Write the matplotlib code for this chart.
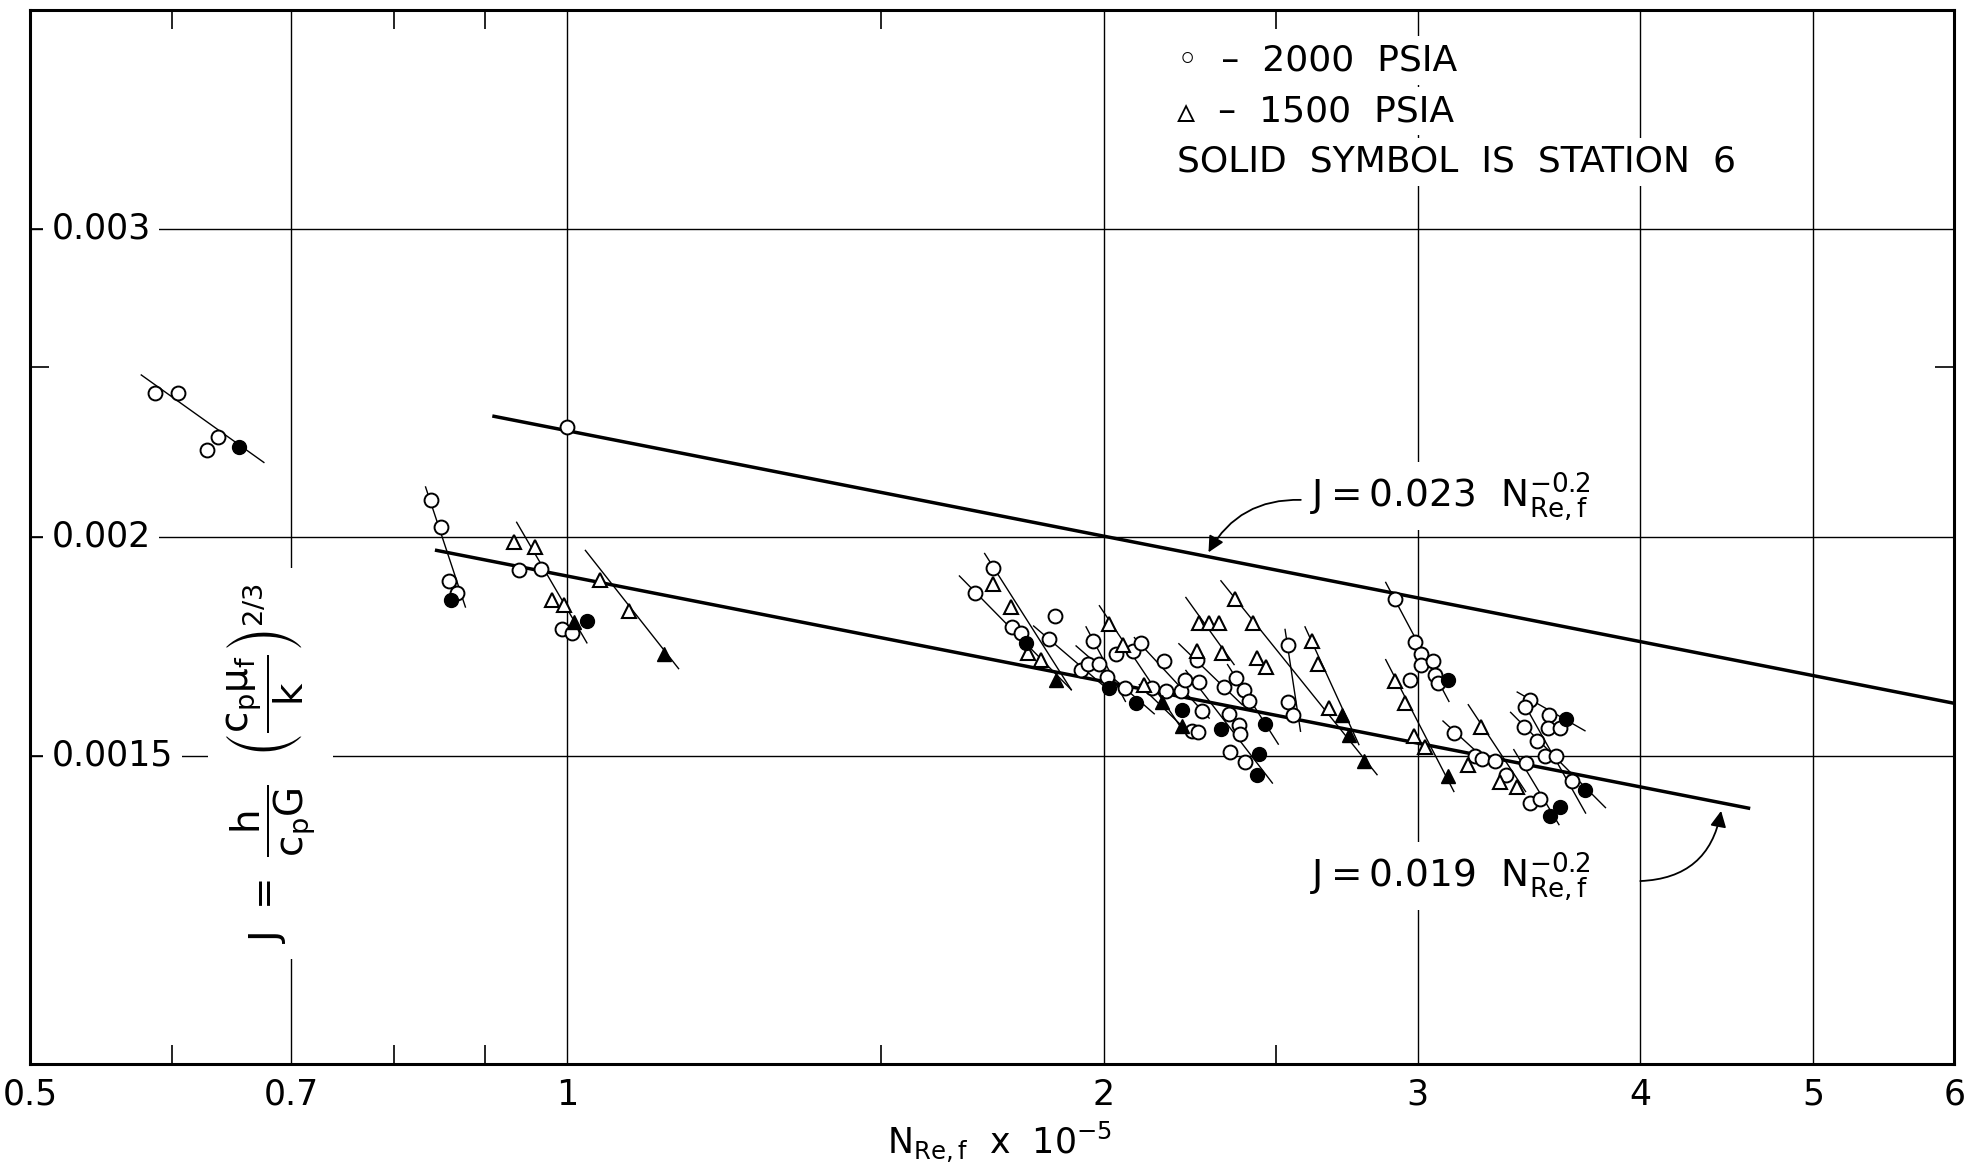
import matplotlib
matplotlib.use('Agg')
import matplotlib.pyplot as plt
from matplotlib.ticker import FixedLocator, FixedFormatter, NullFormatter

plt.rcParams['font.family'] = ['DejaVu Sans']
plt.rcParams['mathtext.fontset'] = 'dejavusans'

# correlation lines (end points), x = N_Re,f * 1e-5
upper_x = [0.91, 6.0]
upper_y = [0.002344, 0.001607]
lower_x = [0.845, 4.6]
lower_y = [0.001965, 0.00140]

# 2000 psia, open circles
circ_x = [0.587, 0.605, 0.637, 0.628, 0.839, 0.850, 0.859, 0.867, 0.940, 0.967, 0.993, 1.007, 1.000,
          1.733, 1.693, 1.777, 1.797, 1.879, 1.863, 1.972, 1.942, 1.959, 1.989, 2.009, 2.032, 2.057,
          2.076, 2.098, 2.162, 2.128, 2.169, 2.209, 2.222, 2.263, 2.257, 2.270, 2.241, 2.260, 2.354,
          2.401, 2.337, 2.372, 2.398, 2.413, 2.350, 2.382, 2.384, 2.538, 2.538, 2.554, 2.912, 2.991,
          3.013, 3.014, 2.972, 3.060, 3.068, 3.081, 3.144, 3.230, 3.261, 3.315, 3.364, 3.449, 3.471,
          3.446, 3.557, 3.551, 3.608, 3.441, 3.501, 3.536, 3.585, 3.663, 3.467, 3.516]
circ_y = [0.002416, 0.002417, 0.002282, 0.002241, 0.002101, 0.002026, 0.001888, 0.001859, 0.001915,
          0.001917, 0.001771, 0.001763, 0.002310,
          0.001921, 0.001859, 0.001777, 0.001763, 0.001803, 0.001748, 0.001744, 0.001678, 0.001693,
          0.001693, 0.001663, 0.001715, 0.001639, 0.001721, 0.001740, 0.001700, 0.001639, 0.001633,
          0.001633, 0.001658, 0.001652, 0.001702, 0.001590, 0.001549, 0.001547, 0.001507, 0.001487,
          0.001641, 0.001662, 0.001636, 0.001611, 0.001585, 0.001562, 0.001544, 0.001735, 0.001610,
          0.001583, 0.001844, 0.001743, 0.001714, 0.001690, 0.001658, 0.001699, 0.001668, 0.001651,
          0.001546, 0.001500, 0.001494, 0.001489, 0.001463, 0.001486, 0.001613, 0.001599, 0.001582,
          0.001556, 0.001556, 0.001557, 0.001530, 0.001500, 0.001500, 0.001451, 0.001409, 0.001417]

# 1500 psia, open triangles
tri_x = [0.934, 0.960, 0.981, 0.996, 1.043, 1.083,
         1.733, 1.775, 1.813, 1.845, 2.013, 2.051, 2.107, 2.257, 2.263, 2.292, 2.320, 2.330, 2.370,
         2.424, 2.439, 2.465, 2.618, 2.638, 2.677, 2.912, 2.950, 2.988,
         3.028, 3.203, 3.254, 3.339, 3.409]
tri_y = [0.001987, 0.001974, 0.001841, 0.001830, 0.001891, 0.001814,
         0.001881, 0.001824, 0.001717, 0.001702, 0.001783, 0.001736, 0.001647, 0.001721, 0.001785,
         0.001785, 0.001785, 0.001717, 0.001843, 0.001785, 0.001705, 0.001685, 0.001745, 0.001693,
         0.001597, 0.001654, 0.001608, 0.001539,
         0.001518, 0.001482, 0.001558, 0.001449, 0.001439]

# station 6 (solid symbols)
circ6_x = [0.655, 0.861, 1.026, 1.808, 2.015, 2.086, 2.212, 2.327, 2.444, 2.439, 2.462,
           3.121, 3.632, 3.724, 3.608, 3.559]
circ6_y = [0.002252, 0.001841, 0.001791, 0.001740, 0.001639, 0.001608, 0.001593, 0.001554,
           0.001503, 0.001463, 0.001564, 0.001656, 0.001574, 0.001434, 0.001403, 0.001386]
tri6_x = [1.009, 1.134, 1.880, 2.156, 2.214, 2.721, 2.745, 2.799, 3.121]
tri6_y = [0.001789, 0.001715, 0.001658, 0.001610, 0.001559, 0.001583, 0.001541, 0.001490, 0.001460]

# faired lines through each run
run_x0 = [0.577, 0.833, 0.937, 1.024, 1.660, 1.715, 1.827, 1.930, 1.955, 1.989, 2.081, 2.094, 2.204,
          2.224, 2.347, 2.224, 2.327, 2.528, 2.594, 2.879, 2.879, 3.100, 3.203, 3.412, 3.383, 3.446,
          3.397]
run_y0 = [0.002475, 0.002136, 0.002039, 0.001965, 0.001900, 0.001957, 0.001779, 0.001733, 0.001777,
          0.001827, 0.001752, 0.001647, 0.001738, 0.001678, 0.001691, 0.001847, 0.001888, 0.001771,
          0.001777, 0.001884, 0.001702, 0.001570, 0.001604, 0.001631, 0.001588, 0.001603, 0.001512]
run_x1 = [0.676, 0.877, 1.026, 1.155, 1.918, 1.918, 2.006, 2.135, 2.057, 2.217, 2.292, 2.243, 2.392,
          2.487, 2.506, 2.367, 2.847, 2.579, 2.781, 3.124, 3.144, 3.289, 3.449, 3.724, 3.824, 3.727,
          3.601]
run_y1 = [0.002206, 0.001824, 0.001740, 0.001682, 0.001636, 0.001636, 0.001640, 0.001585, 0.001611,
          0.001549, 0.001576, 0.001539, 0.001604, 0.001447, 0.001523, 0.001691, 0.001463, 0.001549,
          0.001522, 0.001611, 0.001431, 0.001486, 0.001431, 0.001550, 0.001401, 0.001391, 0.001370]

x_ticks = [0.5, 0.7, 1, 2, 3, 4, 5, 6]
x_ticklabels = ['0.5', '0.7', '1', '2', '3', '4', '5', '6']
x_minor = [0.6, 0.8, 0.9, 1.5, 2.5]
y_ticks = [0.0015, 0.002, 0.003]
y_ticklabels = ['0.0015', '0.002', '0.003']
y_minor = [0.0025]

fs = 25
fig = plt.figure(figsize=(19.86, 11.75), dpi=100)
ax = fig.add_axes([0.0153, 0.0945, 0.9687, 0.897])
ax.set_xscale('log')
ax.set_yscale('log')
ax.set_xlim(0.5, 6)
ax.set_ylim(0.001, 0.004)

ax.xaxis.set_major_locator(FixedLocator(x_ticks))
ax.xaxis.set_major_formatter(FixedFormatter(x_ticklabels))
ax.xaxis.set_minor_locator(FixedLocator(x_minor))
ax.xaxis.set_minor_formatter(NullFormatter())
ax.yaxis.set_major_locator(FixedLocator(y_ticks))
ax.yaxis.set_major_formatter(NullFormatter())
ax.yaxis.set_minor_locator(FixedLocator(y_minor))
ax.yaxis.set_minor_formatter(NullFormatter())

ax.tick_params(axis='x', which='major', length=0, pad=10, labelsize=fs)
ax.tick_params(axis='x', which='minor', direction='in', length=14, width=1.2, top=True, bottom=True)
ax.tick_params(axis='y', which='major', direction='in', length=14, width=1.2, left=True, right=False)
ax.tick_params(axis='y', which='minor', direction='in', length=14, width=1.2, left=True, right=True)

ax.grid(True, which='major', color='black', lw=1.0)
for s in ax.spines.values():
    s.set_linewidth(2.2)

# y tick labels sit inside the frame
ytrans = ax.get_yaxis_transform()
for v, lab in zip(y_ticks, y_ticklabels):
    ax.text(0.011, v, lab, transform=ytrans, ha='left', va='center', fontsize=fs, zorder=6,
            bbox=dict(boxstyle='square,pad=0.25', fc='white', ec='none'))

# runs
for x0, y0, x1, y1 in zip(run_x0, run_y0, run_x1, run_y1):
    ax.plot([x0, x1], [y0, y1], color='black', lw=1.0, zorder=3)

ax.plot(upper_x, upper_y, color='black', lw=2.5, zorder=3)
ax.plot(lower_x, lower_y, color='black', lw=2.5, zorder=3)

ax.plot(circ_x, circ_y, 'o', ms=10, mfc='white', mec='black', mew=1.4, ls='none', zorder=4)
ax.plot(tri_x, tri_y, '^', ms=10.5, mfc='white', mec='black', mew=1.5, ls='none', zorder=4)
ax.plot(circ6_x, circ6_y, 'o', ms=10, mfc='black', mec='black', ls='none', zorder=4)
ax.plot(tri6_x, tri6_y, '^', ms=10.5, mfc='black', mec='black', ls='none', zorder=4)

# legend notes
box = dict(boxstyle='square,pad=0.2', fc='white', ec='none')
ax.text(0.596, 0.952, '\u25e6  \u2013  2000  PSIA', transform=ax.transAxes, fontsize=fs + 1,
        ha='left', va='center', bbox=box, zorder=6)
ax.text(0.596, 0.904, '\u25b5  \u2013  1500  PSIA', transform=ax.transAxes, fontsize=fs + 1,
        ha='left', va='center', bbox=box, zorder=6)
ax.text(0.596, 0.856, 'SOLID  SYMBOL  IS  STATION  6', transform=ax.transAxes, fontsize=fs + 1,
        ha='left', va='center', bbox=box, zorder=6)

# correlation labels
ax.text(2.61, 0.00211, r'$\mathrm{J = 0.023\ \ N_{Re,f}^{-0.2}}$', fontsize=fs + 2,
        ha='left', va='center', bbox=box, zorder=6)
ax.annotate('', xy=(2.29, 0.00196), xytext=(2.58, 0.00210),
            arrowprops=dict(arrowstyle='-|>', color='black', lw=1.3, mutation_scale=24,
                            connectionstyle='arc3,rad=0.3', shrinkA=0, shrinkB=0), zorder=6)
ax.text(2.61, 0.001280, r'$\mathrm{J = 0.019\ \ N_{Re,f}^{-0.2}}$', fontsize=fs + 2,
        ha='left', va='center', bbox=box, zorder=6)
ax.annotate('', xy=(4.44, 0.001395), xytext=(4.0, 0.001272),
            arrowprops=dict(arrowstyle='-|>', color='black', lw=1.3, mutation_scale=24,
                            connectionstyle='arc3,rad=0.4', shrinkA=0, shrinkB=0), zorder=6)

# axis titles
ax.text(0.125, 0.285,
        r'$\mathrm{J\ =\ \dfrac{h}{c_pG}\ \ \left(\dfrac{c_p\mu_f}{k}\right)^{2/3}}$',
        transform=ax.transAxes, rotation=90, ha='center', va='center', fontsize=28,
        bbox=dict(boxstyle='square,pad=0.4', fc='white', ec='none'), zorder=6)
ax.text(0.504, -0.074, r'$\mathrm{N_{Re,f}}$  x  10$^{-5}$', transform=ax.transAxes,
        ha='center', va='center', fontsize=fs)

fig.savefig('out.png', dpi=100)
